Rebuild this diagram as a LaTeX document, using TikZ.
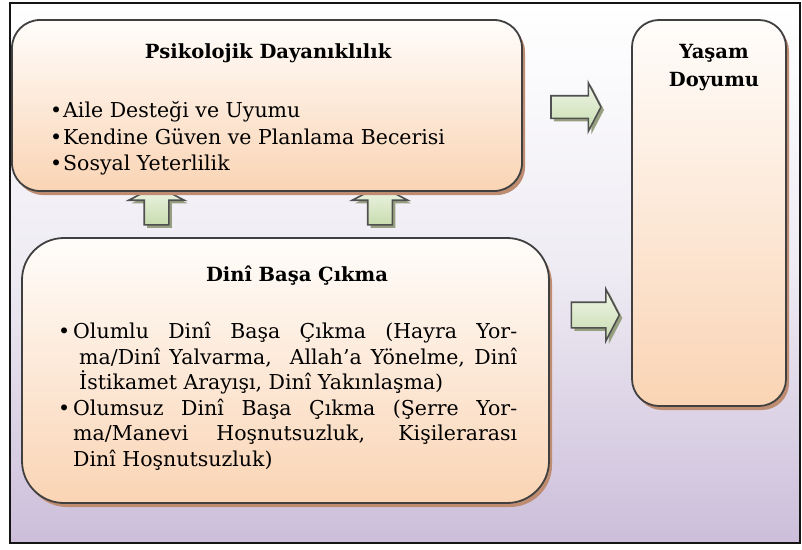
\documentclass[tikz,border=0pt]{standalone}
\usepackage{fontspec}
\setmainfont{DejaVu Serif}
\usepackage{tikz}
\usetikzlibrary{shapes.arrows, shadows, positioning, calc}

\definecolor{frameline}{RGB}{20,20,20}
\definecolor{bgtop}{RGB}{255,255,255}
\definecolor{bgmid}{RGB}{238,235,243}
\definecolor{bgbot}{RGB}{204,190,218}
\definecolor{boxline}{RGB}{64,64,64}
\definecolor{boxtop}{RGB}{255,253,251}
\definecolor{boxbot}{RGB}{250,212,180}
\definecolor{boxshadow}{RGB}{190,140,112}
\definecolor{arrline}{RGB}{80,80,80}
\definecolor{arrlight}{RGB}{240,246,232}
\definecolor{arrgreen}{RGB}{200,220,175}
\definecolor{arrshadow}{RGB}{150,160,128}

\begin{document}
\begin{tikzpicture}[x=1pt, y=-1pt,
  box/.style={draw=boxline, line width=1.8pt, top color=boxtop, bottom color=boxbot,
    inner sep=0pt, drop shadow={shadow xshift=3pt, shadow yshift=-4pt, opacity=1, fill=boxshadow}},
  title/.style={font=\fontsize{19.5}{28}\selectfont\bfseries, inner sep=0pt, anchor=base},
  list/.style={font=\fontsize{20.5}{26.5}\selectfont, inner sep=0pt, anchor=north west, align=left},
  garrow/.style={single arrow, draw=arrline, line width=1.6pt, top color=arrlight,
    bottom color=arrgreen, single arrow tip angle=125, minimum width=0pt,
    drop shadow={shadow xshift=3pt, shadow yshift=-3pt, opacity=1, fill=arrshadow}}]
\useasboundingbox (0,0) rectangle (802,549);
\draw[frameline, line width=1.5pt, top color=bgtop, bottom color=bgbot, middle color=bgmid] (10,3) rectangle (800,543);

% arrows under the top box
\node[garrow, shape border rotate=90, inner sep=11.5pt, minimum height=39pt, single arrow head extend=15.5pt] (up1) at (156.5,208.5) {};
\node[garrow, shape border rotate=90, inner sep=11.5pt, minimum height=39pt, single arrow head extend=15.5pt] (up2) at (380,208.5) {};

% boxes
\node[box, rounded corners=28pt, minimum width=510pt, minimum height=171pt] (psy) at (267,105.5) {};
\node[box, rounded corners=42pt, minimum width=527pt, minimum height=265pt] (dini) at (285.5,370.5) {};
\node[box, rounded corners=27pt, minimum width=154pt, minimum height=386pt] (yasam) at (709,213) {};

% titles
\node[title] (psytitle) at (268,58) {Psikolojik Dayanıklılık};
\node[title] (dinititle) at (297,281) {Dinî Başa Çıkma};
\node[title, align=center, anchor=north] (yasamtitle) at (714,44.5) {Yaşam\\Doyumu};

% lists
\node[list] (psylist) at (50,101.5) {%
\makebox[13pt][l]{•}Aile Desteği ve Uyumu\\
\makebox[13pt][l]{•}Kendine Güven ve Planlama Becerisi\\
\makebox[13pt][l]{•}Sosyal Yeterlilik};
\node[list, font=\fontsize{20.5}{25.5}\selectfont] (dinilist) at (58,322) {%
\makebox[15pt][l]{•}\makebox[444pt][s]{Olumlu Dinî Başa Çıkma (Hayra Yor-}\\
\hspace*{21pt}\makebox[438pt][s]{ma/Dinî Yalvarma,\ \ Allah’a Yönelme, Dinî}\\
\hspace*{21pt}İstikamet Arayışı, Dinî Yakınlaşma)\\
\makebox[15pt][l]{•}\makebox[444pt][s]{Olumsuz Dinî Başa Çıkma (Şerre Yor-}\\
\hspace*{15pt}\makebox[444pt][s]{ma/Manevi Hoşnutsuzluk, Kişilerarası}\\
\hspace*{15pt}Dinî Hoşnutsuzluk)};

% arrows to the right box
\node[garrow, inner xsep=0pt, inner ysep=10.5pt, minimum height=50pt, single arrow head extend=13pt] (right1) at (573,107) {};
\node[garrow, inner xsep=0pt, inner ysep=12pt, minimum height=48pt, single arrow head extend=13pt] (right2) at (592,315) {};
\end{tikzpicture}
\end{document}
